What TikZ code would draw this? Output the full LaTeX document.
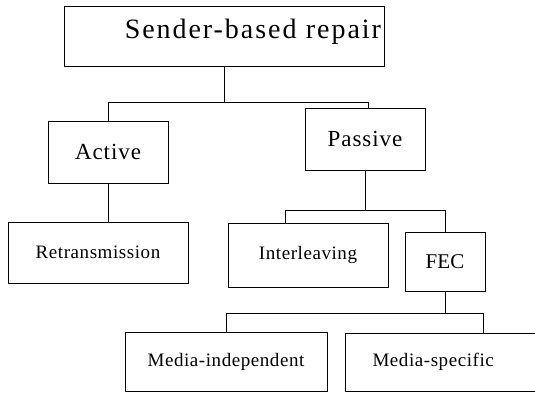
\documentclass[tikz,border=0pt]{standalone}
\usepackage{fontspec}
\setmainfont{Liberation Serif}
\usetikzlibrary{positioning}

\newcommand{\titlefont}{\fontsize{28}{30}\selectfont\addfontfeature{LetterSpace=7}}
\newcommand{\midfont}{\fontsize{23}{26}\selectfont\addfontfeature{LetterSpace=4}}
\newcommand{\smallfont}{\fontsize{19}{22}\selectfont\addfontfeature{LetterSpace=3}}

\begin{document}
\begin{tikzpicture}[%
        x=1pt, y=-1pt,
        box/.style={draw, line width=0.9pt, inner sep=2pt},
        link/.style={draw, line width=0.9pt}
        ]

        \useasboundingbox (0,0) rectangle (535,393);

        \node[box, minimum width=320pt, minimum height=60pt, text width=314pt,
              align=right, text height=31pt, text depth=25pt,
              font=\titlefont] (sbr) at (224,36) {Sender-based repair};
        \node[box, minimum width=120pt, minimum height=62pt, font=\midfont] (act) at (108,152) {Active};
        \node[box, minimum width=120pt, minimum height=62pt, font=\midfont] (pas) at (365,139) {Passive};
        \node[box, minimum width=180pt, minimum height=61pt, font=\smallfont] (rtx) at (98,252.5) {Retransmission};
        \node[box, minimum width=160pt, minimum height=64pt, font=\smallfont] (ilv) at (308,255) {Interleaving};
        \node[box, minimum width=80pt, minimum height=59pt, font=\fontsize{21}{24}\selectfont] (fec) at (445,261.5) {FEC};
        \node[box, minimum width=202pt, minimum height=59pt, font=\smallfont] (mid) at (226,361.5) {Media-independent};
        \node[box, minimum width=205pt, minimum height=58pt, text width=150pt,
              align=left, font=\smallfont] (msp) at (447.5,362) {Media-specific};

        \coordinate (bar1) at (224,102);
        \coordinate (bar2) at (365,210);
        \coordinate (bar3) at (445,313);

        \draw[link] (sbr.south) -- (bar1) -| (act.north);
        \draw[link] (bar1) -| ([xshift=3pt]pas.north);
        \draw[link] (act.south) -- (act.south |- rtx.north);
        \draw[link] (pas.south) -- (bar2) -| ([xshift=-23pt]ilv.north);
        \draw[link] (bar2) -| (fec.north);
        \draw[link] (fec.south) -- (bar3) -| (mid.north);
        \draw[link] (bar3) -| ([xshift=35.5pt]msp.north);

\end{tikzpicture}
\end{document}
